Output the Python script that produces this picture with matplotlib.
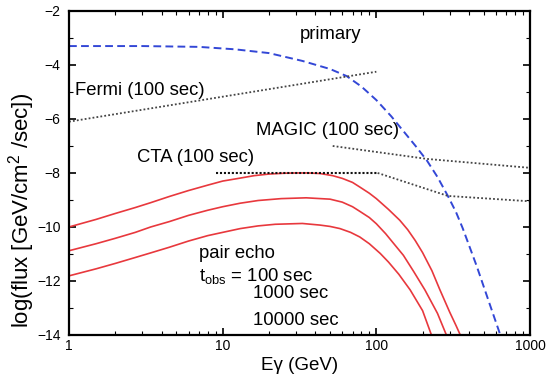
import numpy as np
import matplotlib
matplotlib.use('Agg')
from matplotlib import pyplot as plt
from matplotlib.ticker import LogLocator, MultipleLocator, FixedLocator

plt.rcParams['font.family'] = ['Liberation Sans', 'DejaVu Sans']

# primary spectrum (blue dashed)
E_primary = [1, 3, 7, 12, 20, 33, 50, 64, 80, 100, 125, 150, 180, 214, 250, 292, 330, 365, 450, 550, 650]
F_primary = [-3.30, -3.30, -3.33, -3.42, -3.56, -3.85, -4.15, -4.41, -4.8, -5.3, -5.9, -6.45, -7.0,
             -7.55, -8.15, -8.85, -9.45, -10.05, -11.45, -12.9, -14.1]

# pair echo, t_obs = 100 sec
E_echo1 = [1, 1.5, 2, 2.7, 3.4, 4.5, 6, 8, 10, 13, 16, 20, 25, 30, 36, 43, 52, 60, 70, 78, 90, 100,
           120, 142, 160, 179, 200, 230, 258, 300, 330, 355]
F_echo1 = [-10.0, -9.72, -9.5, -9.28, -9.1, -8.87, -8.65, -8.45, -8.3, -8.19, -8.1, -8.04, -8.01, -8.0,
           -8.0, -8.02, -8.1, -8.2, -8.35, -8.52, -8.75, -8.95, -9.35, -9.75, -10.1, -10.5, -10.95,
           -11.62, -12.3, -13.15, -13.65, -14.05]
# t_obs = 1000 sec
E_echo2 = [1, 1.5, 2, 2.7, 3.4, 4.5, 6, 8, 10, 13, 17, 24, 35, 50, 60, 70, 78, 90, 100, 115, 130,
           150, 175, 207, 250, 288]
F_echo2 = [-10.88, -10.62, -10.42, -10.2, -10.0, -9.8, -9.57, -9.38, -9.25, -9.12, -9.02, -8.95, -8.92,
           -8.97, -9.08, -9.25, -9.42, -9.65, -9.88, -10.25, -10.62, -11.05, -11.65, -12.33, -13.2, -14.05]
# t_obs = 10000 sec
E_echo3 = [1, 1.5, 2, 2.7, 3.4, 4.5, 6, 8, 10, 13, 17, 22, 33, 43, 50, 58, 68, 78, 90, 106, 120, 140,
           166, 200, 230]
F_echo3 = [-11.81, -11.55, -11.35, -11.13, -10.96, -10.75, -10.52, -10.32, -10.2, -10.06, -9.96, -9.9,
           -9.87, -9.93, -9.98, -10.06, -10.2, -10.37, -10.62, -10.98, -11.3, -11.75, -12.33, -13.1, -14.05]

# sensitivities
E_fermi = [1, 100]
F_fermi = [-6.1, -4.25]
E_magic = [52, 214, 1000]
F_magic = [-7.0, -7.48, -7.81]
E_cta = [9, 102]
F_cta = [-8.0, -8.0]
E_cta_tail = [102, 292, 1000]
F_cta_tail = [-8.0, -8.85, -9.05]

fig = plt.figure(figsize=(5.49, 3.78), dpi=100)
ax = fig.add_axes([0.1257, 0.1138, 0.8397, 0.8572])

red = '#e8383d'
for E, F in [(E_echo1, F_echo1), (E_echo2, F_echo2), (E_echo3, F_echo3)]:
    ax.plot(E, F, color=red, lw=1.2)

ax.plot(E_primary, F_primary, color='#3347d6', lw=1.4, ls=(0, (4, 2.2)))
ax.plot(E_fermi, F_fermi, color='#444444', lw=1.3, ls=(0, (1, 1.2)))
ax.plot(E_magic, F_magic, color='#444444', lw=1.3, ls=(0, (1, 1.2)))
ax.plot(E_cta, F_cta, color='#111111', lw=1.5, ls=(0, (1, 0.9)))
ax.plot(E_cta_tail, F_cta_tail, color='#444444', lw=1.3, ls=(0, (1, 1.2)))

ax.set_xscale('log')
ax.set_xlim(1, 1000)
ax.set_ylim(-14, -2)
ax.yaxis.set_major_locator(MultipleLocator(2))
ax.yaxis.set_minor_locator(MultipleLocator(1))
ax.xaxis.set_major_locator(FixedLocator([1, 10, 100, 1000]))
ax.xaxis.set_minor_locator(LogLocator(base=10, subs=np.arange(2, 10)))
ax.set_xticklabels(['1', '10', '100', '1000'])

ax.tick_params(which='both', direction='in', top=True, right=True, labelsize=10, pad=3)
ax.tick_params(which='major', length=5, width=1.2)
ax.tick_params(which='minor', length=3, width=0.8)
ax.tick_params(axis='y', pad=6)
for s in ax.spines.values():
    s.set_linewidth(1.6)

ax.set_xlabel('E\u03b3 (GeV)', fontsize=13.5, labelpad=3)
fig.text(22 / 549, 1 - 210 / 378, r'log(flux [GeV/cm$\mathregular{^2}$ /sec])', fontsize=16,
         rotation=90, ha='center', va='center')

fs = 13.3
tr = ax.transAxes
ax.text(0.568, 0.926, 'primary', fontsize=fs, ha='center', va='center', transform=tr)
ax.text(0.013, 0.756, 'Fermi (100 sec)', fontsize=fs, va='center', transform=tr)
ax.text(0.406, 0.630, 'MAGIC (100 sec)', fontsize=fs, va='center', transform=tr)
ax.text(0.1475, 0.549, 'CTA (100 sec)', fontsize=fs, va='center', transform=tr)
ax.text(0.282, 0.253, 'pair echo', fontsize=fs, va='center', transform=tr)
ax.text(0.282, 0.182, r'$\mathregular{t_{obs}}$ = 100 sec', fontsize=fs, va='center', transform=tr)
ax.text(0.399, 0.127, '1000 sec', fontsize=fs, va='center', transform=tr)
ax.text(0.399, 0.046, '10000 sec', fontsize=fs, va='center', transform=tr)

plt.savefig('out.png', dpi=100)
plt.close()
